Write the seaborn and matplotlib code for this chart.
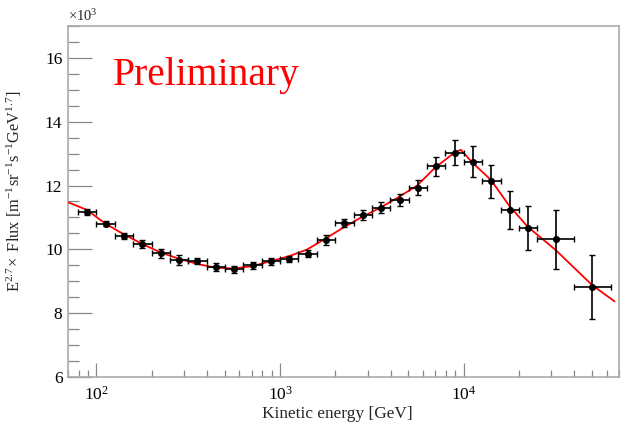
import numpy as np
import pandas as pd
import matplotlib
matplotlib.use("Agg")
import matplotlib.pyplot as plt
import matplotlib.ticker as mticker
import seaborn as sns

# ---- data ----
energy = [89.1, 112.2, 141.3, 177.8, 223.9, 281.8, 354.8, 446.7, 562.3, 707.9,
          891.3, 1122, 1413, 1778, 2239, 2818, 3548, 4467, 5623, 7079,
          8913, 11220, 14125, 17783, 22387, 31623, 50119]
bin_lo = [79.4, 100, 125.9, 158.5, 199.5, 251.2, 316.2, 398.1, 501.2, 631.0,
          794.3, 1000, 1259, 1585, 1995, 2512, 3162, 3981, 5012, 6310,
          7943, 10000, 12589, 15849, 19953, 25119, 39811]
bin_hi = [100, 125.9, 158.5, 199.5, 251.2, 316.2, 398.1, 501.2, 631.0, 794.3,
          1000, 1259, 1585, 1995, 2512, 3162, 3981, 5012, 6310, 7943,
          10000, 12589, 15849, 19953, 25119, 39811, 63096]
flux = [11.17, 10.80, 10.41, 10.16, 9.88, 9.66, 9.63, 9.45, 9.37, 9.50,
        9.62, 9.70, 9.87, 10.30, 10.82, 11.08, 11.30, 11.55, 11.93, 12.60,
        13.03, 12.75, 12.13, 11.24, 10.68, 10.31, 8.82]
flux_err = [0.08, 0.08, 0.10, 0.12, 0.14, 0.16, 0.10, 0.12, 0.12, 0.10,
            0.10, 0.10, 0.10, 0.15, 0.13, 0.15, 0.17, 0.20, 0.24, 0.30,
            0.39, 0.48, 0.52, 0.60, 0.69, 0.92, 0.99]

fit_energy = [70.5, 88.4, 110.5, 137, 176, 220, 279, 351, 437, 553, 702, 875,
              1110, 1396, 1757, 2207, 2780, 3490, 4395, 5570, 6950, 8930,
              9640, 11090, 14030, 17620, 22180, 31620, 50000, 66200]
fit_flux = [11.47, 11.24, 10.83, 10.51, 10.18, 9.92, 9.71, 9.55, 9.43, 9.40,
            9.47, 9.62, 9.78, 9.99, 10.33, 10.68, 11.01, 11.30, 11.63, 12.00,
            12.55, 13.04, 13.12, 12.73, 12.18, 11.38, 10.72, 9.98, 8.88, 8.37]

x_ticks = [100, 1000, 10000]
x_ticklabels = [r"$10^{2}$", r"$10^{3}$", r"$10^{4}$"]
y_ticks = [6, 8, 10, 12, 14, 16]

# ---- style ----
sns.set_theme(style="white")
plt.rcParams["font.family"] = ["Liberation Serif", "DejaVu Serif"]
plt.rcParams["mathtext.fontset"] = "custom"
plt.rcParams["mathtext.rm"] = "Liberation Serif"
plt.rcParams["mathtext.it"] = "Liberation Serif:italic"
plt.rcParams["mathtext.bf"] = "Liberation Serif:bold"

fig = plt.figure(figsize=(6.31, 4.22), dpi=100)
ax = fig.add_axes([68 / 631, 1 - 377 / 422, 551 / 631, 351 / 422])

df_fit = pd.DataFrame({"E": fit_energy, "F": fit_flux})
df_pts = pd.DataFrame({"E": energy, "F": flux})

ax.set_xscale("log")
sns.lineplot(data=df_fit, x="E", y="F", color="red", lw=1.3, sort=False,
             estimator=None, ax=ax, zorder=3)

xerr = np.array([np.array(energy) - np.array(bin_lo),
                 np.array(bin_hi) - np.array(energy)])
ax.errorbar(energy, flux, xerr=xerr, yerr=flux_err, fmt="none",
            ecolor="black", elinewidth=1.2, capsize=2, capthick=1.0, zorder=4)
sns.scatterplot(data=df_pts, x="E", y="F", color="black", s=26,
                edgecolor="black", linewidth=0, ax=ax, zorder=5)

ax.set_xlim(70, 70000)
ax.set_ylim(6, 17)

# ticks
ax.xaxis.set_major_locator(mticker.FixedLocator(x_ticks))
ax.xaxis.set_major_formatter(mticker.FixedFormatter(x_ticklabels))
ax.xaxis.set_minor_locator(mticker.LogLocator(base=10, subs=np.arange(2, 10)))
ax.xaxis.set_minor_formatter(mticker.NullFormatter())
ax.yaxis.set_major_locator(mticker.FixedLocator(y_ticks))
ax.yaxis.set_minor_locator(mticker.MultipleLocator(0.5))

ax.tick_params(axis="both", which="both", direction="in", colors="#888888",
               labelcolor="black", labelsize=12.5)
ax.tick_params(axis="y", which="major", length=17, width=0.9, pad=4,
               left=True, right=False)
ax.tick_params(axis="y", which="minor", length=8, width=0.9,
               left=True, right=False)
ax.tick_params(axis="x", which="major", length=10, width=0.9, pad=6,
               bottom=True, top=False)
ax.tick_params(axis="x", which="minor", length=5, width=0.9,
               bottom=True, top=False)

for sp in ax.spines.values():
    sp.set_color("#aaaaaa")
    sp.set_linewidth(1.2)

ax.set_xlabel("Kinetic energy [GeV]", fontsize=12.4)
ax.xaxis.set_label_coords(0.488, -0.082)
ax.set_ylabel(r"$\mathrm{E}^{2.7}\!\times$ Flux [m$^{-1}$sr$^{-1}$s$^{-1}$GeV$^{1.7}$]",
              fontsize=11.8)
ax.yaxis.set_label_coords(-0.08, 0.53)

ax.text(0.0, 1.006, r"$\times10^{3}$", transform=ax.transAxes,
        ha="left", va="bottom", fontsize=10.5)
ax.text(0.082, 0.832, "Preliminary", transform=ax.transAxes, color="red",
        ha="left", va="baseline", fontsize=28.5)

fig.savefig("out.png", dpi=100)
